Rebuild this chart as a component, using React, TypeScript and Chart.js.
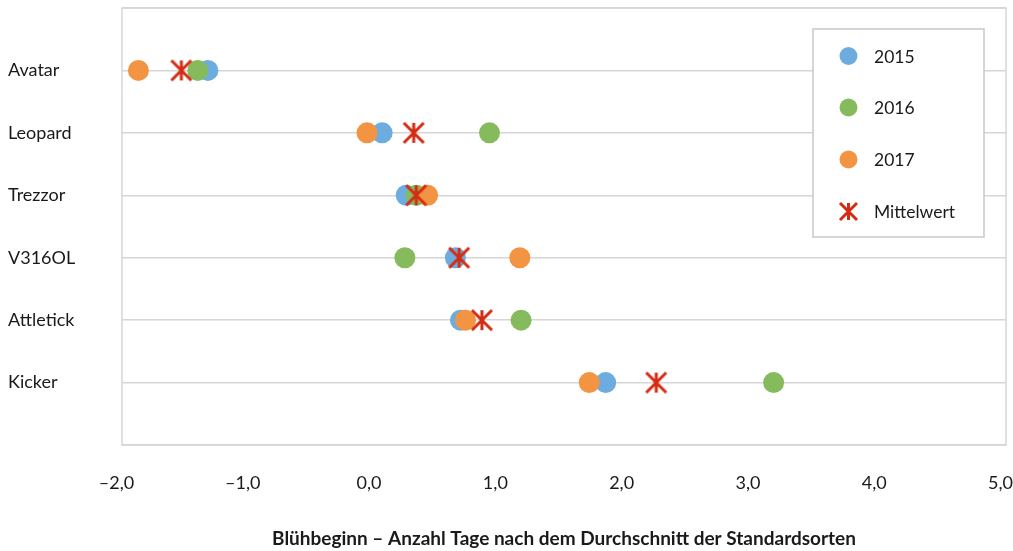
import React, { useEffect, useRef } from 'react';
import { Chart, registerables } from 'chart.js';

Chart.register(...registerables);

// ---- Data ----
const categories = ['Avatar', 'Leopard', 'Trezzor', 'V316OL', 'Attletick', 'Kicker'];
const values2015 = [-1.32, 0.06, 0.25, 0.64, 0.68, 1.83];
const values2016 = [-1.40, 0.91, 0.33, 0.24, 1.16, 3.16];
const values2017 = [-1.87, -0.06, 0.42, 1.15, 0.72, 1.70];
const valuesMean = [-1.53, 0.31, 0.33, 0.67, 0.85, 2.23];
const xTickValues = [-2, -1, 0, 1, 2, 3, 4, 5];
const seriesLabels = ['2015', '2016', '2017', 'Mittelwert'];
const axisTitle = 'Blühbeginn – Anzahl Tage nach dem Durchschnitt der Standardsorten';

// ---- Styles ----
const COLORS = ['#6CACDE', '#85BB5C', '#F29442', '#D42B13'];
const GRID = '#d6d6d6';
const FONT = 'Lato, "Noto Sans", Roboto, sans-serif';
const TEXT = '#1a1a1a';

function makeStar(size: number, color: string, lw: number): HTMLCanvasElement {
  const c = document.createElement('canvas');
  const pad = 2;
  c.width = size + pad * 2;
  c.height = size + pad * 2;
  const g = c.getContext('2d')!;
  g.strokeStyle = color;
  g.lineWidth = lw;
  g.lineCap = 'butt';
  const a = pad, b = pad + size, m = pad + size / 2;
  g.beginPath();
  g.moveTo(a, a); g.lineTo(b, b);
  g.moveTo(b, a); g.lineTo(a, b);
  g.moveTo(m, a); g.lineTo(m, b);
  g.stroke();
  return c;
}

const fmt = (v: number) => {
  const s = Math.abs(v).toFixed(1).replace('.', ',');
  return v < 0 ? '\u2013' + s : s;
};

export default function App() {
  const ref = useRef<HTMLCanvasElement | null>(null);

  useEffect(() => {
    if (!ref.current) return;
    const star = makeStar(20, COLORS[3], 3);
    const legendStar = makeStar(17, COLORS[3], 3);

    const toPts = (arr: number[]) => arr.map((x, i) => ({ x, y: i }));

    const boxPlugin = {
      id: 'box',
      beforeDatasetsDraw(chart: any) {
        const { ctx, chartArea: a } = chart;
        ctx.save();
        ctx.strokeStyle = GRID;
        ctx.lineWidth = 1.5;
        ctx.strokeRect(a.left, a.top, a.right - a.left, a.bottom - a.top);
        ctx.restore();
      },
    };

    const legendPlugin = {
      id: 'customLegend',
      afterDraw(chart: any) {
        const { ctx } = chart;
        ctx.save();
        const bx = 813, by = 29, bw = 171, bh = 208;
        ctx.fillStyle = '#ffffff';
        ctx.fillRect(bx, by, bw, bh);
        ctx.strokeStyle = '#c8c8c8';
        ctx.lineWidth = 1.5;
        ctx.strokeRect(bx, by, bw, bh);
        const rows = [56, 107.5, 159.5, 211.5];
        ctx.font = '17.5px ' + FONT;
        ctx.textBaseline = 'middle';
        ctx.textAlign = 'left';
        seriesLabels.forEach((lab, i) => {
          const y = rows[i];
          const mx = 848.5;
          if (i < 3) {
            ctx.fillStyle = COLORS[i];
            ctx.beginPath();
            ctx.arc(mx, y, 9, 0, Math.PI * 2);
            ctx.fill();
          } else {
            ctx.drawImage(legendStar, mx - legendStar.width / 2, y - legendStar.height / 2);
          }
          ctx.fillStyle = TEXT;
          ctx.fillText(lab, 874, y + 1);
        });
        ctx.restore();
      },
    };

    const mk = (i: number, arr: number[], order: number) => ({
      label: seriesLabels[i],
      data: toPts(arr),
      backgroundColor: COLORS[i],
      borderColor: COLORS[i],
      borderWidth: 0,
      pointRadius: 10.5,
      pointHoverRadius: 10.5,
      order,
    });

    const chart = new Chart(ref.current, {
      type: 'scatter',
      data: {
        datasets: [
          mk(0, values2015, 4),
          mk(1, values2016, 3),
          mk(2, values2017, 2),
          {
            label: seriesLabels[3],
            data: toPts(valuesMean),
            pointStyle: star as any,
            pointRadius: 11,
            pointHoverRadius: 11,
            backgroundColor: COLORS[3],
            borderColor: COLORS[3],
            order: 1,
          },
        ],
      },
      options: {
        responsive: false,
        animation: false,
        events: [],
        layout: { autoPadding: false, padding: { top: 8, right: 7, left: 8, bottom: 0 } },
        plugins: {
          legend: { display: false },
          tooltip: { enabled: false },
        },
        scales: {
          x: {
            type: 'linear',
            min: -2,
            max: 5,
            afterBuildTicks: (s: any) => {
              s.ticks = xTickValues.map((v) => ({ value: v }));
            },
            afterFit: (s: any) => {
              s.height = 106;
              s.paddingLeft = 0;
              s.paddingRight = 0;
            },
            grid: { display: false, drawTicks: false },
            border: { display: false },
            ticks: {
              padding: 27,
              labelOffset: -5.5,
              maxRotation: 0,
              autoSkip: false,
              color: TEXT,
              font: { family: FONT, size: 18 },
              callback: (v: any) => fmt(Number(v)),
            },
            title: {
              display: true,
              text: axisTitle,
              color: TEXT,
              font: { family: FONT, size: 19, weight: 'bold' },
              padding: { top: 0, bottom: 1 },
            },
          },
          y: {
            type: 'linear',
            min: -1,
            max: 6,
            reverse: true,
            afterBuildTicks: (s: any) => {
              const t: any[] = [];
              for (let v = -1; v <= categories.length; v++) t.push({ value: v });
              s.ticks = t;
            },
            afterFit: (s: any) => {
              s.width = 114;
              s.paddingTop = 0;
              s.paddingBottom = 0;
            },
            grid: { color: GRID, lineWidth: 1.5, drawTicks: false },
            border: { display: false },
            ticks: {
              crossAlign: 'far',
              padding: 0,
              autoSkip: false,
              color: TEXT,
              font: { family: FONT, size: 18 },
              callback: (v: any) => {
                const i = Number(v);
                return categories[i] ?? '';
              },
            },
          },
        },
      },
      plugins: [boxPlugin, legendPlugin],
    } as any);

    return () => chart.destroy();
  }, []);

  return (
    <div style={{ position: 'absolute', left: 0, top: 0, width: 1013, height: 551, background: '#fff' }}>
      <canvas ref={ref} width={1013} height={551} style={{ display: 'block' }} />
    </div>
  );
}
